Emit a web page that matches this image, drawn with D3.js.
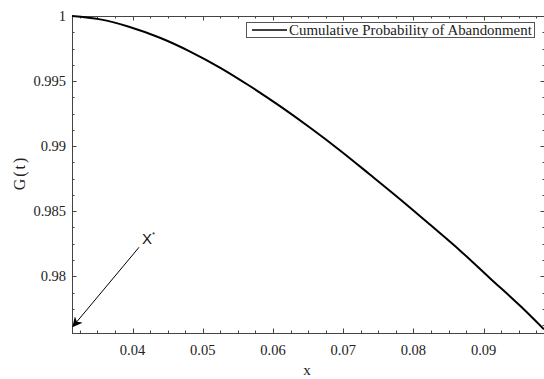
<!DOCTYPE html>
<html>
<head>
<meta charset="utf-8">
<script src="https://cdn.jsdelivr.net/npm/d3@7"></script>
<style>
  body { margin: 0; background: #fff; }
  svg { display: block; }
</style>
</head>
<body>
<div id="chart"></div>
<script>
// values
const xValues = [0.03138, 0.0354, 0.0396, 0.0439, 0.0482, 0.0525, 0.0567, 0.0610, 0.0653,
                 0.0696, 0.0738, 0.0781, 0.0824, 0.0867, 0.0909, 0.0952, 0.0986];
const gValues = [1.00000, 0.99974, 0.99916, 0.99833, 0.99727, 0.99602, 0.99462, 0.99307, 0.99141,
                 0.98965, 0.98782, 0.98592, 0.98395, 0.98195, 0.97985, 0.97773, 0.97592];
const xTicks = [0.04, 0.05, 0.06, 0.07, 0.08, 0.09];
const yTicks = [0.98, 0.985, 0.99, 0.995, 1];
const seriesName = "Cumulative Probability of Abandonment";
// arrow pointing at x*
const arrowFrom = [0.04093, 0.98223];
const arrowTo = [0.03152, 0.97615];

const data = xValues.map((x, i) => ({ x: x, g: gValues[i] }));

const W = 544, H = 379;
const box = { left: 72, right: 545, top: 16, bottom: 333 };

const svg = d3.select("#chart").append("svg")
    .attr("width", W)
    .attr("height", H);

const x = d3.scaleLinear().domain([0.03138, 0.09874]).range([box.left, box.right]);
const y = d3.scaleLinear().domain([0.97564, 1]).range([box.bottom, box.top]);

const serif = "'Liberation Serif', 'Times New Roman', serif";
const frameColor = "#444";
const textColor = "#222";

// minor ticks: 4 divisions per major step
const xMinor = d3.range(0.0300, 0.1001, 0.0025).filter(v => v >= x.domain()[0] - 1e-9 && v <= x.domain()[1]);
const yMinor = d3.range(0.975, 1.0001, 0.00125).filter(v => v >= y.domain()[0] && v <= 1.00001);

function isMajor(v, arr) { return arr.some(t => Math.abs(t - v) < 1e-7); }

const ticks = svg.append("g").attr("stroke", frameColor).attr("stroke-width", 1);

// bottom and top ticks (inward)
xMinor.forEach(v => {
    const len = isMajor(v, xTicks) ? 4.5 : 2.5;
    const px = Math.round(x(v)) + 0.5;
    ticks.append("line").attr("x1", px).attr("x2", px).attr("y1", box.bottom).attr("y2", box.bottom - len);
    ticks.append("line").attr("x1", px).attr("x2", px).attr("y1", box.top).attr("y2", box.top + len);
});
// left and right ticks (inward)
yMinor.forEach(v => {
    const len = isMajor(v, yTicks) ? 4.5 : 2.5;
    const py = Math.round(y(v)) + 0.5;
    ticks.append("line").attr("x1", box.left).attr("x2", box.left + len).attr("y1", py).attr("y2", py);
    ticks.append("line").attr("x1", box.right).attr("x2", box.right - len).attr("y1", py).attr("y2", py);
});

// frame
svg.append("rect")
    .attr("x", box.left + 0.5)
    .attr("y", box.top + 0.5)
    .attr("width", box.right - box.left)
    .attr("height", box.bottom - box.top)
    .attr("fill", "none")
    .attr("stroke", frameColor)
    .attr("stroke-width", 1);

// tick labels
svg.append("g").selectAll("text")
    .data(xTicks)
    .join("text")
    .attr("x", d => x(d))
    .attr("y", 355)
    .attr("text-anchor", "middle")
    .style("font-family", serif)
    .style("font-size", "14.5px")
    .attr("fill", textColor)
    .text(d => d3.format(".2f")(d));

svg.append("g").selectAll("text")
    .data(yTicks)
    .join("text")
    .attr("x", 66)
    .attr("y", d => y(d) + 5)
    .attr("text-anchor", "end")
    .style("font-family", serif)
    .style("font-size", "14.5px")
    .attr("fill", textColor)
    .text(d => d === 1 ? "1" : String(d));

// axis titles
svg.append("text")
    .attr("x", 307)
    .attr("y", 375)
    .attr("text-anchor", "middle")
    .style("font-family", serif)
    .style("font-size", "15px")
    .attr("fill", textColor)
    .text("x");

svg.append("text")
    .attr("transform", "translate(25,173) rotate(-90)")
    .attr("text-anchor", "middle")
    .style("font-family", serif)
    .style("font-size", "16px")
    .style("letter-spacing", "2px")
    .attr("fill", textColor)
    .text("G(t)");

// curve
const line = d3.line()
    .x(d => x(d.x))
    .y(d => y(d.g))
    .curve(d3.curveMonotoneX);

svg.append("path")
    .datum(data)
    .attr("fill", "none")
    .attr("stroke", "#000")
    .attr("stroke-width", 2)
    .attr("d", line);

// legend
const lg = svg.append("g");
lg.append("rect")
    .attr("x", 246.5).attr("y", 22.5)
    .attr("width", 288).attr("height", 15)
    .attr("fill", "#fff")
    .attr("stroke", "#555")
    .attr("stroke-width", 1);
lg.append("line")
    .attr("x1", 252).attr("x2", 287)
    .attr("y1", 30).attr("y2", 30)
    .attr("stroke", "#000")
    .attr("stroke-width", 1.6);
lg.append("text")
    .attr("x", 289).attr("y", 34.5)
    .style("font-family", serif)
    .style("font-size", "14.9px")
    .attr("fill", textColor)
    .text(seriesName);

// arrow annotation
svg.append("defs").append("marker")
    .attr("id", "head")
    .attr("viewBox", "0 0 10 10")
    .attr("refX", 9).attr("refY", 5)
    .attr("markerWidth", 10).attr("markerHeight", 10)
    .attr("markerUnits", "userSpaceOnUse")
    .attr("orient", "auto")
    .append("path")
    .attr("d", "M0,0 L10,5 L0,10 L3,5 Z")
    .attr("fill", "#000");

svg.append("line")
    .attr("x1", x(arrowFrom[0])).attr("y1", y(arrowFrom[1]))
    .attr("x2", x(arrowTo[0])).attr("y2", y(arrowTo[1]))
    .attr("stroke", "#000")
    .attr("stroke-width", 1)
    .attr("marker-end", "url(#head)");

const lab = svg.append("text")
    .attr("x", x(arrowFrom[0]) + 3)
    .attr("y", y(arrowFrom[1]) - 3.5)
    .style("font-family", "'Liberation Sans', Arial, sans-serif")
    .style("font-size", "15px")
    .attr("fill", "#111");
lab.append("tspan").text("X");
lab.append("tspan")
    .attr("dy", -7)
    .style("font-size", "8px")
    .text("*");
</script>
</body>
</html>
